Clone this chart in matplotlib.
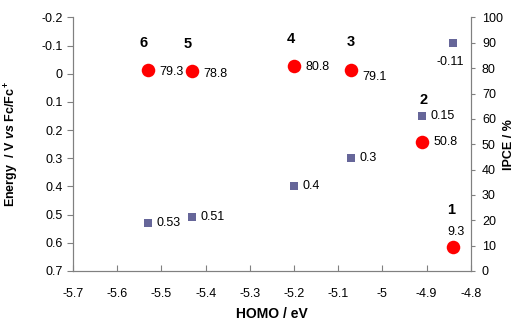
import numpy as np
import matplotlib.pyplot as plt
from matplotlib.ticker import FuncFormatter

plt.rcParams['font.family'] = ['Liberation Sans', 'DejaVu Sans']
plt.rcParams['mathtext.fontset'] = 'custom'
plt.rcParams['mathtext.rm'] = 'Liberation Sans:bold'
plt.rcParams['mathtext.it'] = 'Liberation Sans:italic:bold'

# data
homo = [-5.53, -5.43, -5.20, -5.07, -4.91, -4.84]
energy = [0.53, 0.51, 0.40, 0.30, 0.15, -0.11]
ipce = [79.3, 78.8, 80.8, 79.1, 50.8, 9.3]
dye_ids = ['6', '5', '4', '3', '2', '1']
energy_text = ['0.53', '0.51', '0.4', '0.3', '0.15', '-0.11']
ipce_text = ['79.3', '78.8', '80.8', '79.1', '50.8', '9.3']

# label offsets in pixels (dx, dy) -> converted to points
ipce_off = [(11, -2), (11, -3), (11, -1), (11, -7), (11, 0), (3, 15)]
ipce_ha = ['left', 'left', 'left', 'left', 'left', 'center']
energy_off = [(8, 0), (8, 0), (8, 0), (8, 0), (8, 0), (-3, -19)]
energy_ha = ['left', 'left', 'left', 'left', 'left', 'center']
id_off = [(-5, 27), (-5, 27), (-3, 27), (-1, 28), (1, 42), (-2, 37)]

px = 0.72
grey = '#808080'

fig = plt.figure(figsize=(5.26, 3.24), dpi=100)
ax = fig.add_axes([0.139, 0.164, 0.756, 0.782])
ax2 = ax.twinx()

ax.scatter(homo, energy, marker='s', s=38, color='#666699', zorder=3, linewidths=0)
ax2.scatter(homo, ipce, marker='o', s=95, color='#ff0000', zorder=3, linewidths=0)

for i in range(len(homo)):
    ax.annotate(energy_text[i], (homo[i], energy[i]), xytext=(energy_off[i][0] * px, energy_off[i][1] * px),
                textcoords='offset points', ha=energy_ha[i], va='center', fontsize=9)
    ax2.annotate(ipce_text[i], (homo[i], ipce[i]), xytext=(ipce_off[i][0] * px, ipce_off[i][1] * px),
                 textcoords='offset points', ha=ipce_ha[i], va='center', fontsize=9)
    ax2.annotate(dye_ids[i], (homo[i], ipce[i]), xytext=(id_off[i][0] * px, id_off[i][1] * px),
                 textcoords='offset points', ha='center', va='center', fontsize=10.5, fontweight='bold')

ax.set_xlim(-5.7, -4.8)
ax.set_ylim(0.7, -0.2)
ax2.set_ylim(0, 100)
ax.set_xticks(np.arange(-5.7, -4.79, 0.1))
ax.set_yticks(np.arange(-0.2, 0.71, 0.1))
ax2.set_yticks(np.arange(0, 101, 10))

fmt = FuncFormatter(lambda v, p: '{:g}'.format(round(v, 2) + 0.0))
ax.xaxis.set_major_formatter(fmt)
ax.yaxis.set_major_formatter(fmt)
ax2.yaxis.set_major_formatter(fmt)

for a in (ax, ax2):
    a.spines['top'].set_visible(False)
    for s in ('left', 'right', 'bottom'):
        a.spines[s].set_color(grey)
    a.tick_params(labelsize=9, color=grey, length=4)
ax.tick_params(axis='x', direction='in', pad=12.5)
ax.tick_params(axis='y', direction='out', pad=3.5)
ax2.tick_params(axis='y', direction='out', length=3, pad=5)

ax.set_xlabel('HOMO / eV', fontsize=10, fontweight='bold', va='center')
ax.set_ylabel(r'Energy  / V $\it{vs}$ Fc/Fc$^+$', fontsize=9, fontweight='bold', va='center')
ax2.set_ylabel('IPCE / %', fontsize=9, fontweight='bold', va='center')
ax.xaxis.set_label_coords(0.5, -0.170)
ax.yaxis.set_label_coords(-0.153, 0.5)
ax2.yaxis.set_label_coords(1.095, 0.5)

fig.savefig('out.png', dpi=100)
